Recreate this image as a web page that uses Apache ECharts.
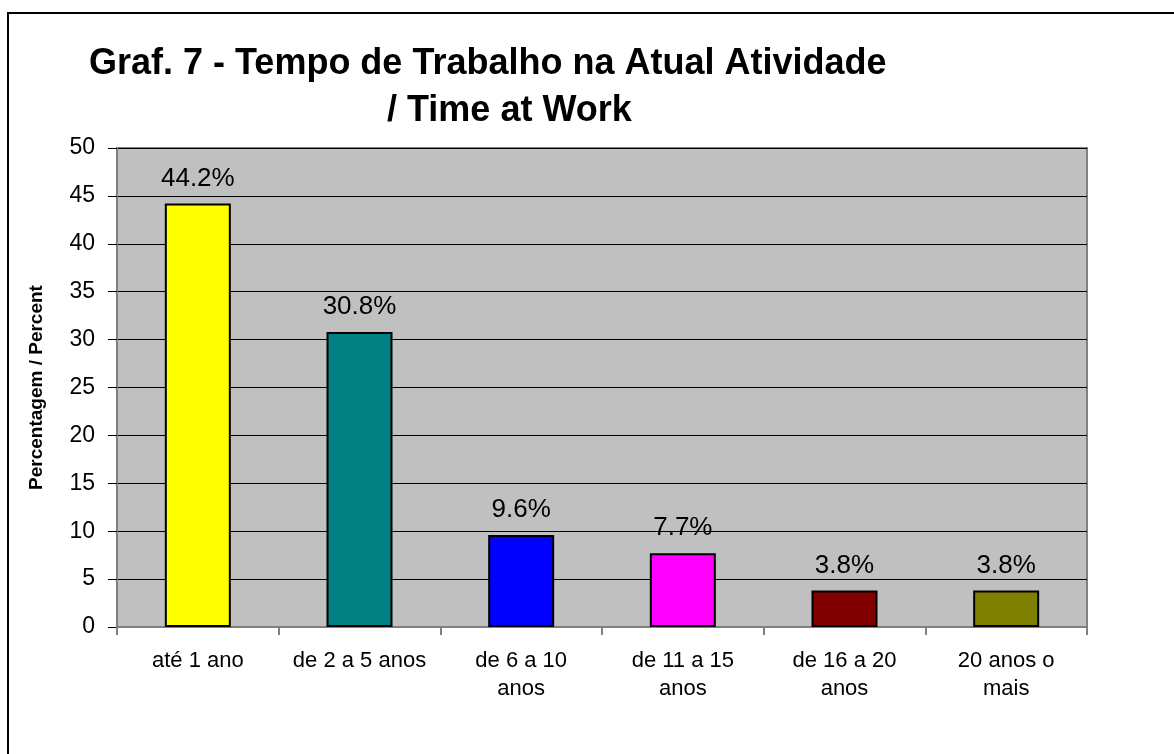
<!DOCTYPE html>
<html>
<head>
<meta charset="UTF-8">
<title>Graf. 7 - Tempo de Trabalho na Atual Atividade</title>
<script src="https://cdn.jsdelivr.net/npm/echarts@6/dist/echarts.min.js"></script>
<style>
  html, body { margin: 0; padding: 0; background: #fff; }
  #chart { width: 1174px; height: 754px; }
</style>
</head>
<body>
<div id="chart"></div>
<script>
// dados do grafico
var categories = ['até 1 ano', 'de 2 a 5 anos', 'de 6 a 10\nanos', 'de 11 a 15\nanos', 'de 16 a 20\nanos', '20 anos o\nmais'];
var percents = [44.2, 30.8, 9.6, 7.7, 3.8, 3.8];
var yTicks = [0, 5, 10, 15, 20, 25, 30, 35, 40, 45, 50];
var barColors = ['#FFFF00', '#008080', '#0000FF', '#FF00FF', '#800000', '#808000'];

var font = 'Arial, "Liberation Sans", sans-serif';
var myChart = echarts.init(document.getElementById('chart'));

var option = {
  animation: false,
  title: [
    {
      text: 'Graf. 7 - Tempo de Trabalho na Atual Atividade',
      left: 84, top: 41,
      textStyle: { fontFamily: font, fontSize: 36, fontWeight: 'bold', color: '#000' }
    },
    {
      text: '/ Time at Work',
      left: 382, top: 88,
      textStyle: { fontFamily: font, fontSize: 36, fontWeight: 'bold', color: '#000' }
    }
  ],
  graphic: [{
    type: 'rect',
    shape: { x: 8, y: 13, width: 1180, height: 760 },
    style: { fill: 'none', stroke: '#000', lineWidth: 2 },
    silent: true
  }],
  grid: {
    left: 117, right: 87, top: 148, bottom: 127,
    show: true,
    backgroundColor: '#C0C0C0',
    borderColor: '#808080',
    borderWidth: 2
  },
  xAxis: {
    type: 'category',
    data: categories,
    axisLine: { show: true, lineStyle: { color: '#808080', width: 2 } },
    axisTick: { show: true, alignWithLabel: false, length: 8, lineStyle: { color: '#808080', width: 2 } },
    axisLabel: {
      fontFamily: font, fontSize: 22, color: '#000',
      lineHeight: 28, margin: 20, interval: 0
    }
  },
  yAxis: {
    type: 'value',
    min: yTicks[0],
    max: yTicks[yTicks.length - 1],
    interval: yTicks[1] - yTicks[0],
    name: 'Percentagem / Percent',
    nameLocation: 'middle',
    nameGap: 71,
    nameTextStyle: { fontFamily: font, fontSize: 19, fontWeight: 'bold', color: '#000' },
    axisLine: { show: true, lineStyle: { color: '#808080', width: 2 } },
    axisTick: { show: true, inside: false, length: 9, lineStyle: { color: '#000', width: 1 } },
    axisLabel: { fontFamily: font, fontSize: 23, color: '#000', margin: 22 },
    splitLine: { show: true, lineStyle: { color: '#000', width: 1 } }
  },
  series: [{
    type: 'bar',
    data: percents.map(function (v, i) {
      return { value: v, itemStyle: { color: barColors[i] } };
    }),
    barWidth: 66,
    itemStyle: { borderColor: '#000', borderWidth: 2 },
    label: {
      show: true,
      position: 'top',
      distance: 12,
      formatter: '{c}%',
      fontFamily: font, fontSize: 26, color: '#000'
    }
  }]
};

myChart.setOption(option);
</script>
</body>
</html>
